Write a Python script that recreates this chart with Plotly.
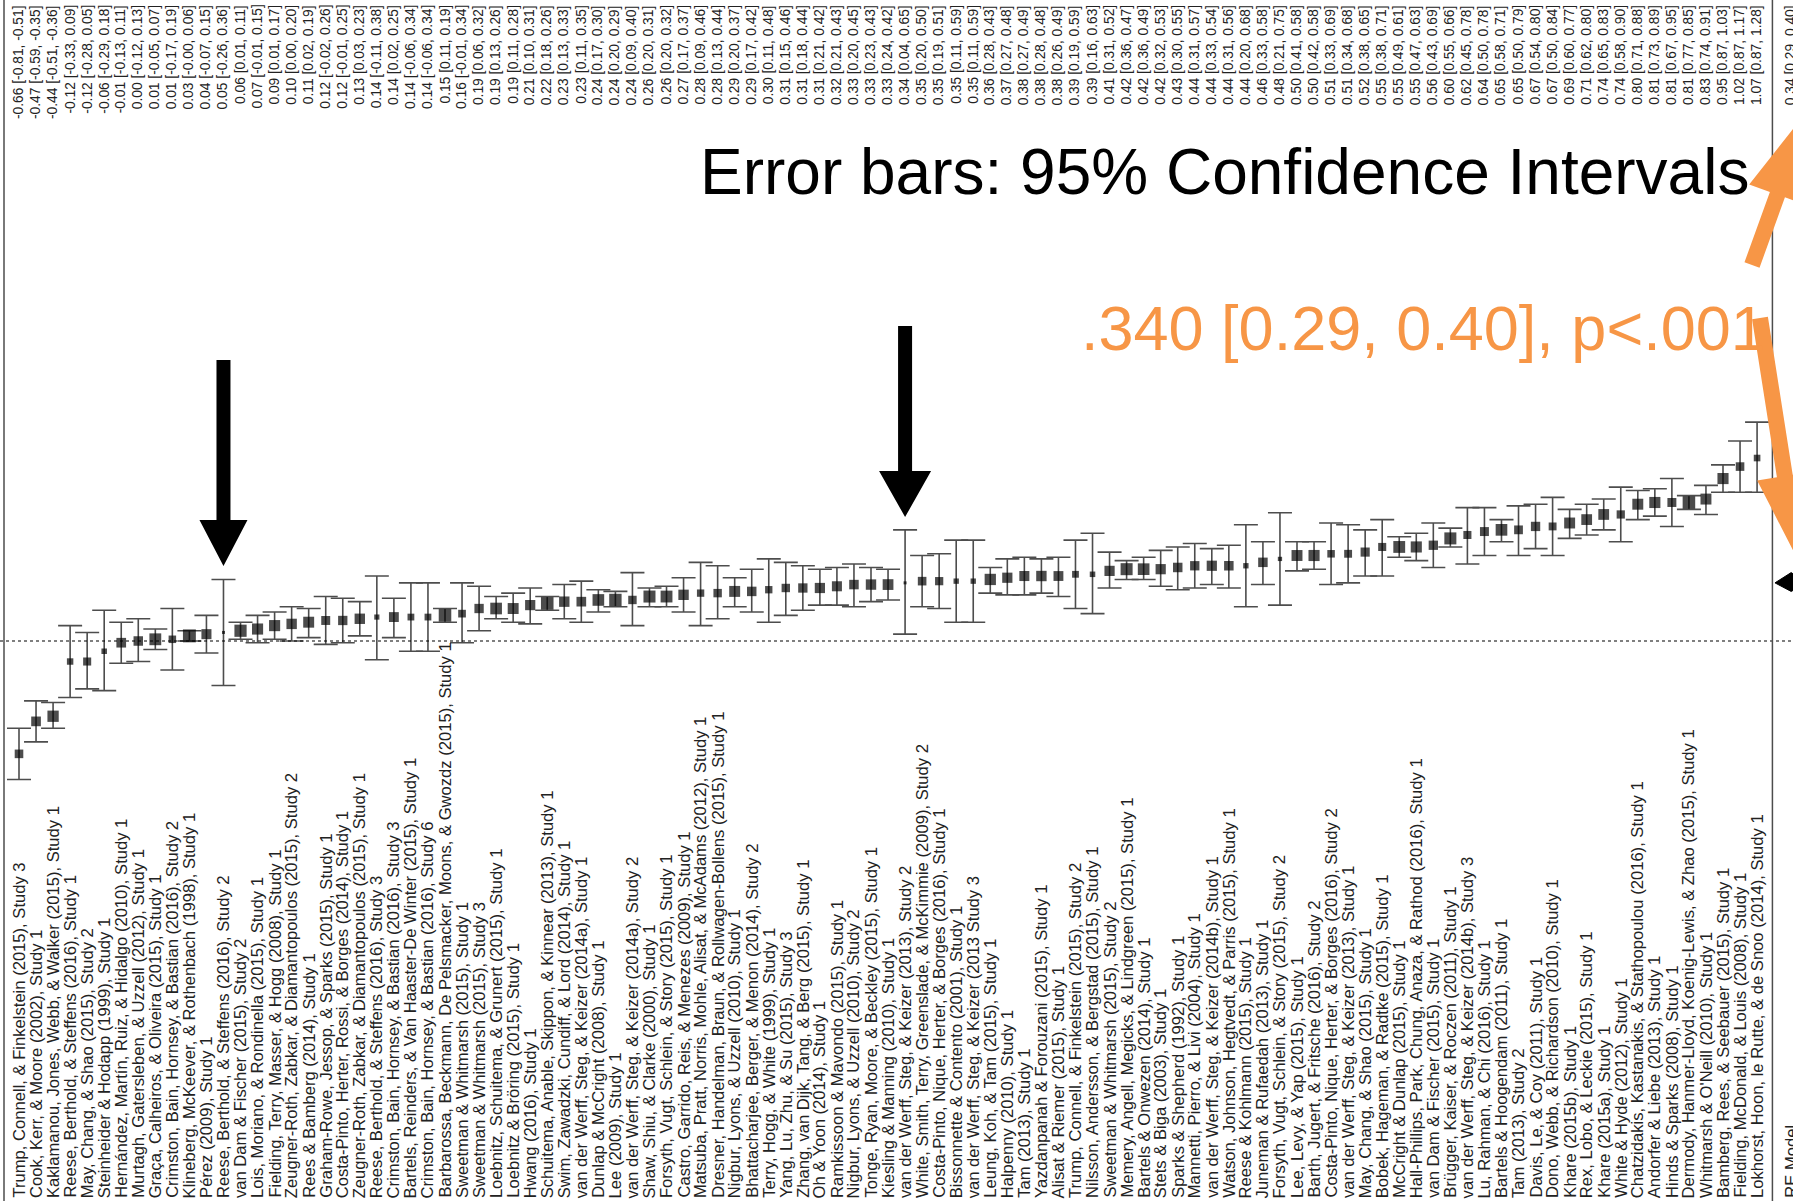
import plotly.graph_objects as go

# ---------------- data ----------------
studies = [
    "Trump, Connell, & Finkelstein (2015), Study 3",
    "Cook, Kerr, & Moore (2002), Study 1",
    "Kaklamanou, Jones, Webb, & Walker (2015), Study 1",
    "Reese, Berthold, & Steffens (2016), Study 1",
    "May, Chang, & Shao (2015), Study 2",
    "Steinheider & Hodapp (1999), Study 1",
    "Hernández, Martín, Ruiz, & Hidalgo (2010), Study 1",
    "Murtagh, Gatersleben, & Uzzell (2012), Study 1",
    "Graça, Calheiros, & Oliveira (2015), Study 1",
    "Crimston, Bain, Hornsey, & Bastian (2016), Study 2",
    "Klineberg, McKeever, & Rothenbach (1998), Study 1",
    "Pérez (2009), Study 1",
    "Reese, Berthold, & Steffens (2016), Study 2",
    "van Dam & Fischer (2015), Study 2",
    "Lois, Moriano, & Rondinella (2015), Study 1",
    "Fielding, Terry, Masser, & Hogg (2008), Study 1",
    "Zeugner-Roth, Zabkar, & Diamantopoulos (2015), Study 2",
    "Rees & Bamberg (2014), Study 1",
    "Graham-Rowe, Jessop, & Sparks (2015), Study 1",
    "Costa-Pinto, Herter, Rossi, & Borges (2014), Study 1",
    "Zeugner-Roth, Zabkar, & Diamantopoulos (2015), Study 1",
    "Reese, Berthold, & Steffens (2016), Study 3",
    "Crimston, Bain, Hornsey, & Bastian (2016), Study 3",
    "Bartels, Reinders, & Van Haaster-De Winter (2015), Study 1",
    "Crimston, Bain, Hornsey, & Bastian (2016), Study 6",
    "Barbarossa, Beckmann, De Pelsmacker, Moons, & Gwozdz (2015), Study 1",
    "Sweetman & Whitmarsh (2015), Study 1",
    "Sweetman & Whitmarsh (2015), Study 3",
    "Loebnitz, Schuitema, & Grunert (2015), Study 1",
    "Loebnitz & Bröring (2015), Study 1",
    "Hwang (2016), Study 1",
    "Schuitema, Anable, Skippon, & Kinnear (2013), Study 1",
    "Swim, Zawadzki, Cundiff, & Lord (2014), Study 1",
    "van der Werff, Steg, & Keizer (2014a), Study 1",
    "Dunlap & McCright (2008), Study 1",
    "Lee (2009), Study 1",
    "van der Werff, Steg, & Keizer (2014a), Study 2",
    "Shaw, Shiu, & Clarke (2000), Study 1",
    "Forsyth, Vugt, Schlein, & Story (2015), Study 1",
    "Castro, Garrido, Reis, & Menezes (2009), Study 1",
    "Matsuba, Pratt, Norris, Mohle, Alisat, & McAdams (2012), Study 1",
    "Dresner, Handelman, Braun, & Rollwagen-Bollens (2015), Study 1",
    "Nigbur, Lyons, & Uzzell (2010), Study 1",
    "Bhattacharjee, Berger, & Menon (2014), Study 2",
    "Terry, Hogg, & White (1999), Study 1",
    "Yang, Lu, Zhu, & Su (2015), Study 3",
    "Zhang, van Dijk, Tang, & Berg (2015), Study 1",
    "Oh & Yoon (2014), Study 1",
    "Ramkissoon & Mavondo (2015), Study 1",
    "Nigbur, Lyons, & Uzzell (2010), Study 2",
    "Tonge, Ryan, Moore, & Beckley (2015), Study 1",
    "Kiesling & Manning (2010), Study 1",
    "van der Werff, Steg, & Keizer (2013), Study 2",
    "White, Smith, Terry, Greenslade, & McKimmie (2009), Study 2",
    "Costa-Pinto, Nique, Herter, & Borges (2016), Study 1",
    "Bissonnette & Contento (2001), Study 1",
    "van der Werff, Steg, & Keizer (2013 Study 3",
    "Leung, Koh, & Tam (2015), Study 1",
    "Halpenny (2010), Study 1",
    "Tam (2013), Study 1",
    "Yazdanpanah & Forouzani (2015), Study 1",
    "Alisat & Riemer (2015), Study 1",
    "Trump, Connell, & Finkelstein (2015), Study 2",
    "Nilsson, Andersson, & Bergstad (2015), Study 1",
    "Sweetman & Whitmarsh (2015), Study 2",
    "Memery, Angell, Megicks, & Lindgreen (2015), Study 1",
    "Bartels & Onwezen (2014), Study 1",
    "Stets & Biga (2003), Study 1",
    "Sparks & Shepherd (1992), Study 1",
    "Mannetti, Pierro, & Livi (2004), Study 1",
    "van der Werff, Steg, & Keizer (2014b), Study 1",
    "Watson, Johnson, Hegtvedt, & Parris (2015), Study 1",
    "Reese & Kohlmann (2015), Study 1",
    "Juneman & Rufaedah (2013), Study 1",
    "Forsyth, Vugt, Schlein, & Story (2015), Study 2",
    "Lee, Levy, & Yap (2015), Study 1",
    "Barth, Jugert, & Fritsche (2016), Study 2",
    "Costa-Pinto, Nique, Herter, & Borges (2016), Study 2",
    "van der Werff, Steg, & Keizer (2013), Study 1",
    "May, Chang, & Shao (2015), Study 1",
    "Bobek, Hageman, & Radtke (2015), Study 1",
    "McCright & Dunlap (2015), Study 1",
    "Hall-Phillips, Park, Chung, Anaza, & Rathod (2016), Study 1",
    "van Dam & Fischer (2015), Study 1",
    "Brügger, Kaiser, & Roczen (2011), Study 1",
    "van der Werff, Steg, & Keizer (2014b), Study 3",
    "Lu, Rahman, & Chi (2016), Study 1",
    "Bartels & Hoogendam (2011), Study 1",
    "Tam (2013), Study 2",
    "Davis, Le, & Coy (2011), Study 1",
    "Dono, Webb, & Richardson (2010), Study 1",
    "Khare (2015b), Study 1",
    "Rex, Lobo, & Leckie (2015), Study 1",
    "Khare (2015a), Study 1",
    "White & Hyde (2012), Study 1",
    "Chatzidakis, Kastanakis, & Stathopoulou (2016), Study 1",
    "Andorfer & Liebe (2013), Study 1",
    "Hinds & Sparks (2008), Study 1",
    "Dermody, Hanmer-Lloyd, Koenig-Lewis, & Zhao (2015), Study 1",
    "Whitmarsh & O'Neill (2010), Study 1",
    "Bamberg, Rees, & Seebauer (2015), Study 1",
    "Fielding, McDonald, & Louis (2008), Study 1",
    "Lokhorst, Hoon, le Rutte, & de Snoo (2014), Study 1",
]

est = [-0.66, -0.47, -0.44, -0.12, -0.12, -0.06, -0.01, 0.00, 0.01, 0.01,
       0.03, 0.04, 0.05, 0.06, 0.07, 0.09, 0.10, 0.11, 0.12, 0.12,
       0.13, 0.14, 0.14, 0.14, 0.14, 0.15, 0.16, 0.19, 0.19, 0.19,
       0.21, 0.22, 0.23, 0.23, 0.24, 0.24, 0.24, 0.26, 0.26, 0.27,
       0.28, 0.28, 0.29, 0.29, 0.30, 0.31, 0.31, 0.31, 0.32, 0.33,
       0.33, 0.33, 0.34, 0.35, 0.35, 0.35, 0.35, 0.36, 0.37, 0.38,
       0.38, 0.38, 0.39, 0.39, 0.41, 0.42, 0.42, 0.42, 0.43, 0.44,
       0.44, 0.44, 0.44, 0.46, 0.48, 0.50, 0.50, 0.51, 0.51, 0.52,
       0.55, 0.55, 0.55, 0.56, 0.60, 0.62, 0.64, 0.65, 0.65, 0.67,
       0.67, 0.69, 0.71, 0.74, 0.74, 0.80, 0.81, 0.81, 0.81, 0.83,
       0.95, 1.02, 1.07]

ci_lo = [-0.81, -0.59, -0.51, -0.33, -0.28, -0.29, -0.13, -0.12, -0.05, -0.17,
         -0.0, -0.07, -0.26, 0.01, -0.01, 0.01, 0.00, 0.02, -0.02, -0.01,
         0.03, -0.11, 0.02, -0.06, -0.06, 0.11, -0.01, 0.06, 0.13, 0.11,
         0.10, 0.18, 0.13, 0.11, 0.17, 0.20, 0.09, 0.20, 0.20, 0.17,
         0.09, 0.13, 0.20, 0.17, 0.11, 0.15, 0.18, 0.21, 0.21, 0.20,
         0.23, 0.24, 0.04, 0.20, 0.19, 0.11, 0.11, 0.28, 0.27, 0.27,
         0.28, 0.26, 0.19, 0.16, 0.31, 0.36, 0.36, 0.32, 0.30, 0.31,
         0.33, 0.31, 0.20, 0.33, 0.21, 0.41, 0.42, 0.33, 0.34, 0.38,
         0.38, 0.49, 0.47, 0.43, 0.55, 0.45, 0.50, 0.58, 0.50, 0.54,
         0.50, 0.60, 0.62, 0.65, 0.58, 0.71, 0.73, 0.67, 0.77, 0.74,
         0.87, 0.87, 0.87]

ci_hi = [-0.51, -0.35, -0.36, 0.09, 0.05, 0.18, 0.11, 0.13, 0.07, 0.19,
         0.06, 0.15, 0.36, 0.11, 0.15, 0.17, 0.20, 0.19, 0.26, 0.25,
         0.23, 0.38, 0.25, 0.34, 0.34, 0.19, 0.34, 0.32, 0.26, 0.28,
         0.31, 0.26, 0.33, 0.35, 0.30, 0.29, 0.40, 0.31, 0.32, 0.37,
         0.46, 0.44, 0.37, 0.42, 0.48, 0.46, 0.44, 0.42, 0.43, 0.45,
         0.43, 0.42, 0.65, 0.50, 0.51, 0.59, 0.59, 0.43, 0.48, 0.49,
         0.48, 0.49, 0.59, 0.63, 0.52, 0.47, 0.49, 0.53, 0.55, 0.57,
         0.54, 0.56, 0.68, 0.58, 0.75, 0.58, 0.58, 0.69, 0.68, 0.65,
         0.71, 0.61, 0.63, 0.69, 0.66, 0.78, 0.78, 0.71, 0.79, 0.80,
         0.84, 0.77, 0.80, 0.83, 0.90, 0.88, 0.89, 0.95, 0.85, 0.91,
         1.03, 1.17, 1.28]

re_label = "RE Model"
re_est, re_lo, re_hi = 0.34, 0.29, 0.40

note_text = "Error bars: 95% Confidence Intervals"
summary_text = ".340 [0.29, 0.40], p<.001"

# ---------------- geometry ----------------
W, H = 1793, 1201
n = len(studies)
pos = list(range(1, n + 1))
re_pos = n + 2
sep_pos = n + 0.9

PX_PER_ROW = 17.04
x0 = 1 - 19 / PX_PER_ROW
x_range = [x0, x0 + W / PX_PER_ROW]
Y_ZERO_PX, Y_SCALE = 641, 171
y_range = [-(H - Y_ZERO_PX) / Y_SCALE, Y_ZERO_PX / Y_SCALE]

FONT = "Liberation Sans, Arial, Helvetica, sans-serif"
ORANGE = "#F79646"
GREY = "#4d4d4d"


def row_px(p):
    return (p - x0) * PX_PER_ROW


def paper(xp, yp):
    return xp / W, 1 - yp / H


def arrow_path(x1, y1, x2, y2, sw, hw, hl):
    """Block arrow polygon from tail (x1,y1) to tip (x2,y2) in pixels -> paper path."""
    import math
    dx, dy = x2 - x1, y2 - y1
    L = math.hypot(dx, dy)
    ux, uy = dx / L, dy / L
    nx, ny = -uy, ux
    bx, by = x2 - ux * hl, y2 - uy * hl
    pts = [
        (x1 + nx * sw / 2, y1 + ny * sw / 2),
        (bx + nx * sw / 2, by + ny * sw / 2),
        (bx + nx * hw / 2, by + ny * hw / 2),
        (x2, y2),
        (bx - nx * hw / 2, by - ny * hw / 2),
        (bx - nx * sw / 2, by - ny * sw / 2),
        (x1 - nx * sw / 2, y1 - ny * sw / 2),
    ]
    segs = []
    for i, (a, b) in enumerate(pts):
        px_, py_ = paper(a, b)
        segs.append(("M" if i == 0 else "L") + f"{px_:.5f},{py_:.5f}")
    return " ".join(segs) + " Z"


# marker size shrinks with CI width (weights)
sizes = [max(3, 14 - 18 * (h - l)) for l, h in zip(ci_lo, ci_hi)]

fig = go.Figure()
fig.add_trace(go.Scatter(
    x=pos, y=est, mode="markers",
    marker=dict(symbol="square", color="black", size=sizes, line=dict(width=0)),
    error_y=dict(type="data", symmetric=False,
                 array=[h - e for e, h in zip(est, ci_hi)],
                 arrayminus=[e - l for e, l in zip(est, ci_lo)],
                 color=GREY, thickness=1.6, width=12),
    hoverinfo="skip", showlegend=False,
))

shapes = []
# zero reference line (dotted)
shapes.append(dict(type="line", xref="paper", yref="y", x0=0, x1=1, y0=0, y1=0,
                   line=dict(color="black", width=1.2, dash="dot")))
# separator before RE model row
shapes.append(dict(type="line", xref="x", yref="paper", x0=sep_pos, x1=sep_pos, y0=0, y1=1,
                   line=dict(color=GREY, width=1.5)))
# left frame line
shapes.append(dict(type="line", xref="paper", yref="paper", x0=4 / W, x1=4 / W, y0=0, y1=1,
                   line=dict(color=GREY, width=1.5)))
# RE diamond
shapes.append(dict(type="path", xref="x", yref="y",
                   path=f"M{re_pos - 0.95},{re_est} L{re_pos},{re_hi} L{re_pos + 0.95},{re_est} L{re_pos},{re_lo} Z",
                   fillcolor="black", line=dict(color="black", width=1)))

# black arrows pointing at studies 13 and 53
for idx, ytail, ytip, hw in [(13, 360, 566, 48), (53, 326, 517, 52)]:
    xc = row_px(idx)
    shapes.append(dict(type="path", xref="paper", yref="paper",
                       path=arrow_path(xc, ytail, xc, ytip, 14, hw, 46),
                       fillcolor="black", line=dict(width=0)))

# orange arrows from summary text
shapes.append(dict(type="path", xref="paper", yref="paper",
                   path=arrow_path(1752, 265, 1808, 110, 16, 60, 90),
                   fillcolor=ORANGE, line=dict(width=0)))
shapes.append(dict(type="path", xref="paper", yref="paper",
                   path=arrow_path(1760, 318, 1798, 560, 16, 56, 85),
                   fillcolor=ORANGE, line=dict(width=0)))

annotations = []
label_font = dict(family=FONT, size=13.8, color="#222222")
name_font = dict(family=FONT, size=16.6, color="#222222")
for p, e, l, h, name in zip(pos, est, ci_lo, ci_hi, studies):
    annotations.append(dict(x=p, y=1 - 4 / H, xref="x", yref="paper",
                            text=f"{e:.2f} [{l:.2f}, {h:.2f}]", textangle=-90,
                            showarrow=False, xanchor="center", yanchor="top",
                            font=label_font, borderpad=0))
    annotations.append(dict(x=p, y=2 / H, xref="x", yref="paper",
                            text=name, textangle=-90,
                            showarrow=False, xanchor="center", yanchor="bottom",
                            font=name_font, borderpad=0))
annotations.append(dict(x=re_pos, y=1 - 4 / H, xref="x", yref="paper",
                        text=f"{re_est:.2f} [{re_lo:.2f}, {re_hi:.2f}]", textangle=-90,
                        showarrow=False, xanchor="center", yanchor="top",
                        font=label_font, borderpad=0))
annotations.append(dict(x=re_pos, y=2 / H, xref="x", yref="paper",
                        text=re_label, textangle=-90,
                        showarrow=False, xanchor="center", yanchor="bottom",
                        font=name_font, borderpad=0))

annotations.append(dict(x=1750 / W, y=1 - 172 / H, xref="paper", yref="paper",
                        text=note_text, showarrow=False, xanchor="right", yanchor="middle",
                        font=dict(family=FONT, size=64, color="black"), borderpad=0))
annotations.append(dict(x=1767 / W, y=1 - 328 / H, xref="paper", yref="paper",
                        text=summary_text, showarrow=False, xanchor="right", yanchor="middle",
                        font=dict(family=FONT, size=63, color=ORANGE), borderpad=0))

fig.update_layout(
    width=W, height=H,
    margin=dict(l=0, r=0, t=0, b=0),
    paper_bgcolor="white", plot_bgcolor="white",
    xaxis=dict(range=x_range, visible=False, fixedrange=True),
    yaxis=dict(range=y_range, visible=False, fixedrange=True),
    shapes=shapes, annotations=annotations,
    showlegend=False,
)

fig.write_html("out.html", config={"displayModeBar": False},
               post_script="document.body.style.margin='0';document.body.style.overflow='hidden';")
